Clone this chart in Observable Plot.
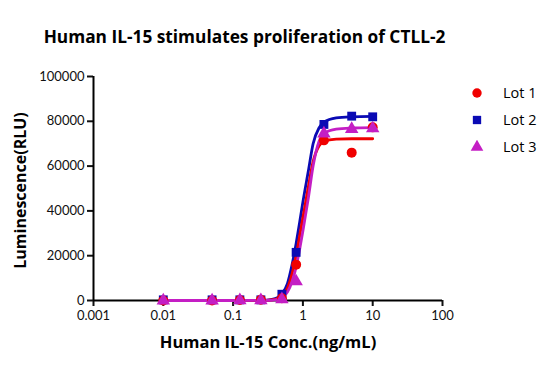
<!DOCTYPE html>
<html>
<head>
<meta charset="utf-8">
<script src="https://cdn.jsdelivr.net/npm/d3@7"></script>
<script src="https://cdn.jsdelivr.net/npm/@observablehq/plot@0.6"></script>
<style>
  html, body { margin: 0; padding: 0; background: #fff; }
  #wrap { position: relative; width: 550px; height: 386px; font-family: "Open Sans", Lato, sans-serif; }
  #title { position: absolute; left: 0; width: 489px; top: 25px; text-align: center; font-weight: bold; font-size: 17.3px; color: #000; white-space: nowrap; }
  #legend { position: absolute; left: 470px; top: 79px; font-size: 14.5px; color: #000; }
  .lg { display: flex; align-items: center; height: 27px; }
  .lg svg { margin-right: 19px; }
</style>
</head>
<body>
<div id="wrap">
  <div id="chart"></div>
  <div id="title"></div>
  <div id="legend"></div>
</div>
<script>
// ---- data ----
const titleText = "Human IL-15 stimulates proliferation of CTLL-2";
const xLabel = "Human IL-15 Conc.(ng/mL)";
const yLabel = "Luminescence(RLU)";
const lots = ["Lot 1", "Lot 2", "Lot 3"];
const xTicks = [0.001, 0.01, 0.1, 1, 10, 100];
const yTicks = [0, 20000, 40000, 60000, 80000, 100000];

// measured points
const conc = [0.01, 0.05, 0.125, 0.25, 0.5, 0.8, 2, 5, 10];
const lot1 = [0, 0, 200, 300, 1000, 16000, 71500, 66000, 77300];
const lot2 = [300, 300, 300, 300, 2800, 21500, 78600, 82300, 82000];
const lot3 = [0, 0, 100, 100, 500, 8500, 74500, 76500, 76800];

// fitted curves
const fitConc = [0.01, 0.1, 0.3, 0.4, 0.5, 0.6, 0.7, 0.8, 0.9, 1.0, 1.2, 1.4, 1.7, 2, 3, 5, 10];
const fit1 = [0, 0, 100, 500, 2000, 5500, 12000, 20000, 29000, 37000, 51000, 62000, 69000, 71000, 72000, 72200, 72200];
const fit2 = [0, 0, 200, 800, 3000, 7500, 16000, 25500, 35000, 44000, 58000, 70000, 77000, 79500, 81500, 82000, 82200];
const fit3 = [0, 0, 50, 300, 1200, 3800, 8500, 15000, 23000, 31000, 46000, 60000, 71000, 74500, 76500, 77000, 77200];

// ---- styles ----
const colors = ["#f00000", "#0a0ab4", "#c41ec4"];
const symbols = ["circle", "square", "triangle"];

const pointValues = [lot1, lot2, lot3];
const fitValues = [fit1, fit2, fit3];
const points = lots.flatMap((lot, i) => conc.map((c, j) => ({lot, x: c, y: pointValues[i][j]})));
const fits = lots.flatMap((lot, i) => fitConc.map((c, j) => ({lot, x: c, y: fitValues[i][j]})));
const drawOrder = ["Lot 2", "Lot 1", "Lot 3"];

const fmt = d => String(d);

const chart = Plot.plot({
  width: 550,
  height: 386,
  marginLeft: 93,
  marginRight: 108,
  marginTop: 76,
  marginBottom: 86,
  style: {fontFamily: "Lato, 'Open Sans', sans-serif", fontSize: "13px", color: "#000", background: "#fff"},
  x: {type: "log", domain: [0.001, 100]},
  y: {domain: [0, 100000]},
  color: {domain: lots, range: colors},
  symbol: {domain: lots, range: symbols},
  marks: [
    Plot.axisX({ticks: xTicks, tickFormat: fmt, tickSize: 6, tickPadding: 4, strokeWidth: 2, fontSize: 13, label: null, color: "#111"}),
    Plot.axisY({ticks: yTicks, tickFormat: fmt, tickSize: 6, tickPadding: 3, strokeWidth: 2, fontSize: 13, label: null, color: "#111"}),
    Plot.ruleY([0], {x1: xTicks[0], x2: xTicks[xTicks.length - 1], stroke: "#000", strokeWidth: 2}),
    Plot.ruleX([xTicks[0]], {y1: yTicks[0], y2: yTicks[yTicks.length - 1], stroke: "#000", strokeWidth: 2}),
    ...drawOrder.map(l => Plot.line(fits.filter(d => d.lot === l), {x: "x", y: "y", stroke: "lot", strokeWidth: 2.8, curve: "monotone-x"})),
    ...drawOrder.map(l => Plot.dot(points.filter(d => d.lot === l), {x: "x", y: "y", fill: "lot", symbol: "lot", r: 5})),
    Plot.text([xLabel], {frameAnchor: "bottom", textAnchor: "middle", dy: 47, fontWeight: "bold", fontSize: 16.5, fontFamily: "'Open Sans', sans-serif", fill: "#000"}),
    Plot.text([yLabel], {frameAnchor: "left", textAnchor: "middle", dx: -73, dy: 2, rotate: -90, fontWeight: "bold", fontSize: 16, fontFamily: "'Open Sans', sans-serif", fill: "#000"})
  ]
});
document.getElementById("chart").appendChild(chart);
document.getElementById("title").textContent = titleText;

const legend = d3.select("#legend");
lots.forEach((lot, i) => {
  const row = legend.append("div").attr("class", "lg");
  const s = row.append("svg").attr("width", 14).attr("height", 14);
  s.append("path")
    .attr("transform", "translate(7,7)")
    .attr("d", d3.symbol(d3["symbol" + symbols[i][0].toUpperCase() + symbols[i].slice(1)], Math.PI * 22)())
    .attr("fill", colors[i]);
  row.append("span").text(lot);
});
</script>
</body>
</html>
